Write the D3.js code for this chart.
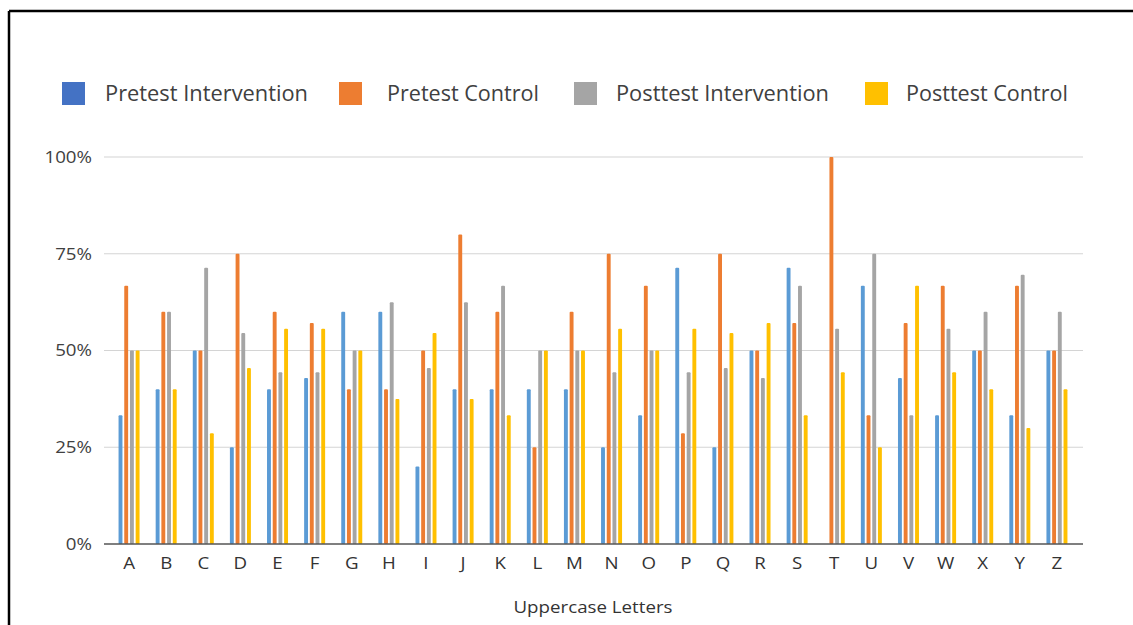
<!DOCTYPE html>
<html>
<head>
<meta charset="utf-8">
<script src="https://cdn.jsdelivr.net/npm/d3@7"></script>
<style>
  html, body { margin: 0; padding: 0; background: #fff; }
  svg { display: block; }
  text { font-family: "Open Sans", sans-serif; }
</style>
</head>
<body>
<svg id="chart" width="1133" height="625"></svg>
<script>
const categories = ["A","B","C","D","E","F","G","H","I","J","K","L","M","N","O","P","Q","R","S","T","U","V","W","X","Y","Z"];
const seriesNames = ["Pretest Intervention","Pretest Control","Posttest Intervention","Posttest Control"];
const pretestIntervention  = [33.3,40,50,25,40,42.9,60,60,20,40,40,40,40,25,33.3,71.4,25,50,71.4,0,66.7,42.9,33.3,50,33.3,50];
const pretestControl       = [66.7,60,50,75,60,57.1,40,40,50,80,60,25,60,75,66.7,28.6,75,50,57.1,100,33.3,57.1,66.7,50,66.7,50];
const posttestIntervention = [50,60,71.4,54.5,44.4,44.4,50,62.5,45.5,62.5,66.7,50,50,44.4,50,44.4,45.5,42.9,66.7,55.6,75,33.3,55.6,60,69.6,60];
const posttestControl      = [50,40,28.6,45.5,55.6,55.6,50,37.5,54.5,37.5,33.3,50,50,55.6,50,55.6,54.5,57.1,33.3,44.4,25,66.7,44.4,40,30,40];
const yTicks = [0,25,50,75,100];
const xTitle = "Uppercase Letters";

const barColors = ["#5B9BD5","#ED7D31","#A5A5A5","#FFC000"];
const legendColors = ["#4472C4","#ED7D31","#A5A5A5","#FFC000"];
const seriesValues = [pretestIntervention, pretestControl, posttestIntervention, posttestControl];

const svg = d3.select("#chart");
const stretch = 1.17;

// frame
svg.append("line").attr("x1",9).attr("x2",1133).attr("y1",11).attr("y2",11).attr("stroke","#000").attr("stroke-width",2.5);
svg.append("line").attr("x1",9).attr("x2",9).attr("y1",11).attr("y2",625).attr("stroke","#000").attr("stroke-width",2.5);

const plotLeft = 104, plotRight = 1083, plotTop = 157, plotBottom = 544;
const x = d3.scaleBand().domain(categories).range([plotLeft + 6.5, plotRight - 7.5]);
const xInner = d3.scaleBand().domain(seriesNames).range([-11.4, 11.4]);
const y = d3.scaleLinear().domain([0,100]).range([plotBottom, plotTop]);

// gridlines
svg.append("g").selectAll("line").data(yTicks.filter(d => d > 0)).join("line")
  .attr("x1", plotLeft).attr("x2", plotRight)
  .attr("y1", d => y(d)).attr("y2", d => y(d))
  .attr("stroke", "#d4d4d4").attr("stroke-width", 1.2);

// y labels
svg.append("g").selectAll("g").data(yTicks).join("g")
  .attr("transform", d => `translate(92,${y(d) + 5.8}) scale(${stretch},1)`)
  .append("text")
  .attr("text-anchor", "end")
  .attr("font-size", 16).attr("fill", "#404040")
  .text(d => d + "%");

// bars
const barW = 3.9;
const groups = svg.append("g").selectAll("g").data(categories).join("g")
  .attr("transform", d => `translate(${x(d) + x.bandwidth()/2},0)`);
groups.selectAll("rect").data((c, i) => seriesNames.map((s, k) => ({s, k, v: seriesValues[k][i]}))).join("rect")
  .attr("x", d => xInner(d.s) + (xInner.bandwidth() - barW)/2)
  .attr("width", barW)
  .attr("y", d => y(d.v))
  .attr("height", d => y(0) - y(d.v))
  .attr("rx", 1)
  .attr("fill", d => barColors[d.k]);

// baseline
svg.append("line").attr("x1", plotLeft).attr("x2", plotRight)
  .attr("y1", y(0)).attr("y2", y(0)).attr("stroke", "#555").attr("stroke-width", 1.5);

// x labels
svg.append("g").selectAll("g").data(categories).join("g")
  .attr("transform", d => `translate(${x(d) + x.bandwidth()/2},568.5) scale(${stretch},1)`)
  .append("text")
  .attr("text-anchor", "middle").attr("font-size", 16).attr("fill", "#333")
  .text(d => d);

// x title
svg.append("g").attr("transform", `translate(593,612.5) scale(${stretch},1)`)
  .append("text").attr("text-anchor", "middle")
  .attr("font-size", 16).attr("fill", "#333").text(xTitle);

// legend
const legendSwatchX = [62, 339, 574, 865];
const legendTextX = [105, 387, 616, 906];
const legendTextW = [203, 152, 213, 162];
const lg = svg.append("g");
seriesNames.forEach((s, i) => {
  lg.append("rect").attr("x", legendSwatchX[i]).attr("y", 82).attr("width", 23).attr("height", 23)
    .attr("fill", legendColors[i]);
  lg.append("text").attr("x", legendTextX[i]).attr("y", 100.5)
    .attr("font-size", 21).attr("fill", "#404040")
    .attr("textLength", legendTextW[i]).attr("lengthAdjust", "spacingAndGlyphs")
    .text(s);
});
</script>
</body>
</html>
